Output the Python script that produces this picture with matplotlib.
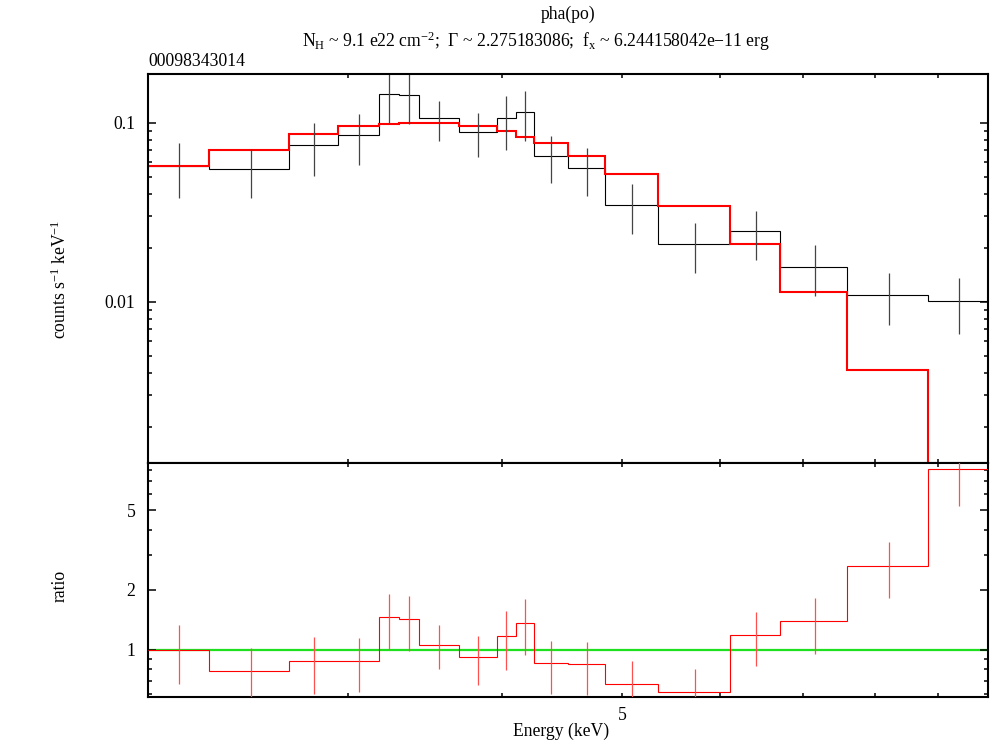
import numpy as np
import matplotlib
matplotlib.use("Agg")
import matplotlib.pyplot as plt
from matplotlib.ticker import FixedLocator, NullFormatter, FixedFormatter, NullLocator

plt.rcParams['font.family'] = ['Liberation Serif', 'DejaVu Serif']
plt.rcParams['mathtext.fontset'] = 'custom'
plt.rcParams['mathtext.rm'] = 'Liberation Serif'
plt.rcParams['mathtext.it'] = 'Liberation Serif:italic'
plt.rcParams['mathtext.bf'] = 'Liberation Serif:bold'

# ---- data ----
bin_edges = [2.070, 2.318, 2.692, 2.945, 3.182, 3.303, 3.424, 3.688, 3.958,
             4.101, 4.240, 4.523, 4.842, 5.347, 6.107, 6.708, 7.596, 8.825, 9.871]
data_rate = [0.0573, 0.0549, 0.0748, 0.0850, 0.1441, 0.1428, 0.1058, 0.0884, 0.1058,
             0.1148, 0.0652, 0.0556, 0.0346, 0.0210, 0.0247, 0.0157, 0.01094, 0.01013]
data_err = [0.0193, 0.0168, 0.0242, 0.0266, 0.0449, 0.0448, 0.0266, 0.0244, 0.0350,
            0.0356, 0.0193, 0.0164, 0.0106, 0.0065, 0.0075, 0.0050, 0.0035, 0.0035]
model_rate = [0.0573, 0.0704, 0.0861, 0.0962, 0.0987, 0.1000, 0.1000, 0.0962, 0.0899,
              0.0835, 0.0767, 0.0654, 0.0515, 0.0344, 0.0211, 0.01128, 0.00414, 0.00122]
ratio = [1.00, 0.779, 0.875, 0.881, 1.454, 1.421, 1.060, 0.919, 1.176,
         1.366, 0.855, 0.845, 0.673, 0.611, 1.181, 1.388, 2.63, 8.04]
ratio_err = [0.33, 0.24, 0.278, 0.27, 0.445, 0.438, 0.264, 0.25, 0.387,
             0.423, 0.252, 0.25, 0.205, 0.189, 0.356, 0.432, 0.82, 2.76]

x_ticks = [3, 4, 5, 6, 7, 8, 9]
x_tick_labels = ['', '', '5', '', '', '', '']
top_major = [0.01, 0.1]
top_labels = ['0.01', '0.1']
ratio_major = [1, 2, 5]
ratio_labels = ['1', '2', '5']

title_line1 = 'pha(po)'
title_line2 = r'N$_\mathrm{H}$ ~ 9.1 e22 cm$^{-2}$;  Γ ~ 2.275183086;  f$_\mathrm{x}$ ~ 6.244158042e−11 erg'
obs_id = '00098343014'

FS = 12.7

# ---- figure ----
W, H = 990, 742
fig = plt.figure(figsize=(W / 100, H / 100), dpi=100)

L, R = 148, 988
T1, MID, B2 = 74, 463.3, 697
ax1 = fig.add_axes([L / W, (H - MID) / H, (R - L) / W, (MID - T1) / H])
ax2 = fig.add_axes([L / W, (H - B2) / H, (R - L) / W, (B2 - MID) / H])

edges = np.array(bin_edges)
centers = 0.5 * (edges[:-1] + edges[1:])

# top panel
ax1.stairs(data_rate, edges, color='black', lw=0.8, baseline=None)
ax1.errorbar(centers, data_rate, yerr=data_err, fmt='none', ecolor='#444444',
             elinewidth=0.9, capsize=0)
ax1.stairs(model_rate, edges, color='#ff0000', lw=1.5, baseline=None)

# bottom panel
ax2.axhline(1.0, color='#1fe01f', lw=1.6, zorder=1)
ax2.stairs(ratio, edges, color='#ff0000', lw=0.8, baseline=None, zorder=3)
ax2.errorbar(centers, ratio, yerr=ratio_err, fmt='none', ecolor='#ff5050',
             elinewidth=0.9, capsize=0, zorder=3)

for ax in (ax1, ax2):
    ax.set_xscale('log')
    ax.set_yscale('log')
    ax.set_xlim(2.070, 9.871)
    ax.xaxis.set_major_locator(FixedLocator(x_ticks))
    ax.xaxis.set_minor_locator(NullLocator())
    for s in ax.spines.values():
        s.set_linewidth(1.5)
    ax.tick_params(which='both', direction='in', top=True, right=True, width=1.1)
    ax.tick_params(axis='x', which='major', length=3.0)
    ax.tick_params(axis='y', which='major', length=5.8)
    ax.tick_params(axis='y', which='minor', length=2.9)
    ax.tick_params(labelsize=FS, pad=9)

ax1.set_ylim(0.001251, 0.1871)
ax1.xaxis.set_major_formatter(NullFormatter())
ax1.yaxis.set_major_locator(FixedLocator(top_major))
ax1.yaxis.set_major_formatter(FixedFormatter(top_labels))
top_minor = [m * d for d in (0.001, 0.01, 0.1) for m in range(2, 10)]
ax1.yaxis.set_minor_locator(FixedLocator(top_minor))
ax1.yaxis.set_minor_formatter(NullFormatter())

ax2.set_ylim(0.5793, 8.60)
ax2.xaxis.set_major_formatter(FixedFormatter(x_tick_labels))
ax2.yaxis.set_major_locator(FixedLocator(ratio_major))
ax2.yaxis.set_major_formatter(FixedFormatter(ratio_labels))
ax2.yaxis.set_minor_locator(FixedLocator([0.6, 0.7, 0.8, 0.9, 3, 4, 6, 7, 8]))
ax2.yaxis.set_minor_formatter(NullFormatter())
ax2.tick_params(axis='x', pad=7)

# texts
fig.text(568 / W, 1 - 14 / H, title_line1, ha='center', va='center', fontsize=FS)
fig.text(536 / W, 1 - 41 / H, title_line2, ha='center', va='center', fontsize=FS)
fig.text(148 / W, 1 - 61 / H, obs_id, ha='left', va='center', fontsize=FS)
fig.text(60 / W, 1 - 279 / H, r'counts s$^{-1}$ keV$^{-1}$', rotation=90,
         ha='center', va='center', fontsize=FS)
fig.text(60 / W, 1 - 586 / H, 'ratio', rotation=90, ha='center', va='center', fontsize=FS)
fig.text(561 / W, 1 - 731 / H, 'Energy (keV)', ha='center', va='center', fontsize=FS)

fig.savefig('out.png', dpi=100)
